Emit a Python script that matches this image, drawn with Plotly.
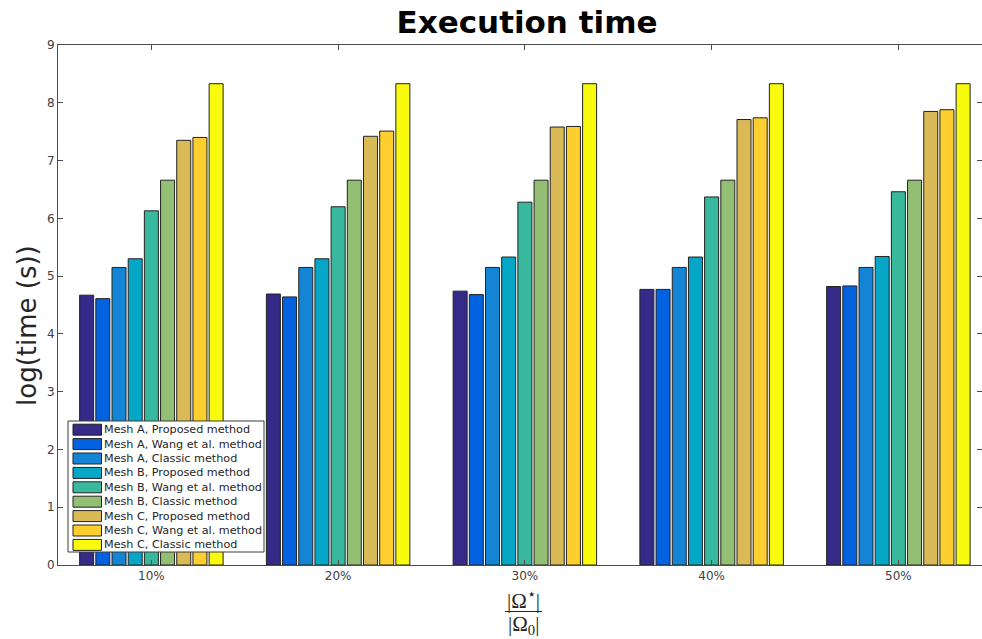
import plotly.graph_objects as go

# Fraction of the domain covered (x categories)
categories = ["10%", "20%", "30%", "40%", "50%"]
cat_pos = [1, 2, 3, 4, 5]

series_names = [
    "Mesh A, Proposed method",
    "Mesh A, Wang et al. method",
    "Mesh A, Classic method",
    "Mesh B, Proposed method",
    "Mesh B, Wang et al. method",
    "Mesh B, Classic method",
    "Mesh C, Proposed method",
    "Mesh C, Wang et al. method",
    "Mesh C, Classic method",
]

# log(time) per series, one value per category
mesh_a_proposed = [4.67, 4.69, 4.74, 4.77, 4.82]
mesh_a_wang = [4.61, 4.64, 4.68, 4.77, 4.83]
mesh_a_classic = [5.15, 5.15, 5.15, 5.15, 5.15]
mesh_b_proposed = [5.30, 5.30, 5.33, 5.33, 5.34]
mesh_b_wang = [6.13, 6.20, 6.28, 6.37, 6.46]
mesh_b_classic = [6.66, 6.66, 6.66, 6.66, 6.66]
mesh_c_proposed = [7.35, 7.42, 7.58, 7.71, 7.85]
mesh_c_wang = [7.40, 7.51, 7.59, 7.74, 7.88]
mesh_c_classic = [8.33, 8.33, 8.33, 8.33, 8.33]

series_values = [
    mesh_a_proposed, mesh_a_wang, mesh_a_classic,
    mesh_b_proposed, mesh_b_wang, mesh_b_classic,
    mesh_c_proposed, mesh_c_wang, mesh_c_classic,
]

colors = [
    "#352a87", "#0262e0", "#1485d4", "#06a7c6", "#38b99e",
    "#92bf73", "#d9ba56", "#fcce2e", "#f9fb0e",
]

y_ticks = list(range(0, 10))

W, H = 982, 639
L, R, T, B = 58, 0, 45, 74
axis_color = "#4d4d4d"
text_color = "#262626"

fig = go.Figure()
for name, vals, col in zip(series_names, series_values, colors):
    fig.add_trace(go.Bar(
        x=cat_pos, y=vals, name=name,
        marker=dict(color=col, line=dict(color="#222222", width=1)),
        showlegend=False,
    ))

# pixel -> paper helpers for the hand-built legend and axis labels
pw, ph = W - L - R, H - T - B


def px_x(px):
    return (px - L) / pw


def px_y(py):
    return (H - B - py) / ph


shapes = []
annotations = []

# legend box
lx0, lx1, ly0, ly1 = 68, 264, 421, 552
shapes.append(dict(type="rect", xref="paper", yref="paper",
                   x0=px_x(lx0), x1=px_x(lx1), y0=px_y(ly1), y1=px_y(ly0),
                   fillcolor="white", line=dict(color="#3a3a3a", width=1),
                   layer="above"))
row0, pitch = 429.7, 14.4
for i, (name, col) in enumerate(zip(series_names, colors)):
    cy = row0 + i * pitch
    shapes.append(dict(type="rect", xref="paper", yref="paper",
                       x0=px_x(73), x1=px_x(101.5),
                       y0=px_y(cy + 5.5), y1=px_y(cy - 5.5),
                       fillcolor=col, line=dict(color="#222222", width=1),
                       layer="above"))
    annotations.append(dict(xref="paper", yref="paper", x=px_x(102), y=px_y(cy),
                            text=name, showarrow=False, xanchor="left",
                            yanchor="middle",
                            font=dict(family="DejaVu Sans", size=11.2,
                                      color=text_color)))

# y-axis label
annotations.append(dict(xref="paper", yref="paper", x=px_x(27), y=px_y(326),
                        text="log(time (s))", showarrow=False, textangle=-90,
                        xanchor="center", yanchor="middle",
                        font=dict(family="DejaVu Sans", size=26, color=text_color)))

# x-axis label: |Ω*| / |Ω0|
frac_x = 523
annotations.append(dict(xref="paper", yref="paper", x=px_x(frac_x), y=px_y(599),
                        text="|Ω<sup>⋆</sup>|", showarrow=False,
                        xanchor="center", yanchor="middle",
                        font=dict(family="Liberation Serif", size=21,
                                  color=text_color)))
annotations.append(dict(xref="paper", yref="paper", x=px_x(frac_x), y=px_y(625),
                        text="|Ω<sub>0</sub>|", showarrow=False,
                        xanchor="center", yanchor="middle",
                        font=dict(family="Liberation Serif", size=21,
                                  color=text_color)))
shapes.append(dict(type="line", xref="paper", yref="paper",
                   x0=px_x(505), x1=px_x(542), y0=px_y(611.5), y1=px_y(611.5),
                   line=dict(color=text_color, width=1.2)))

fig.update_layout(
    width=W, height=H,
    margin=dict(l=L, r=R, t=T, b=B, pad=0),
    paper_bgcolor="white", plot_bgcolor="white",
    barmode="group", bargap=0.22, bargroupgap=0.135,
    title=dict(text="<b>Execution time</b>", x=527 / W, xanchor="center",
               y=1 - 22 / H, yanchor="middle",
               font=dict(family="DejaVu Sans", size=31, color="black")),
    xaxis=dict(range=[0.5, 0.5 + pw / 186.75], tickvals=cat_pos, ticktext=categories,
               showline=True, linecolor=axis_color, linewidth=1, mirror="ticks",
               ticks="inside", ticklen=5, tickcolor=axis_color,
               showgrid=False, zeroline=False,
               tickfont=dict(family="DejaVu Sans", size=12, color="#404040")),
    yaxis=dict(range=[0, 9], tickvals=y_ticks,
               showline=True, linecolor=axis_color, linewidth=1, mirror="ticks",
               ticks="inside", ticklen=5, tickcolor=axis_color,
               showgrid=False, zeroline=False,
               tickfont=dict(family="DejaVu Sans", size=12, color="#404040")),
    shapes=shapes,
    annotations=annotations,
)

fig.write_html("out.html")
